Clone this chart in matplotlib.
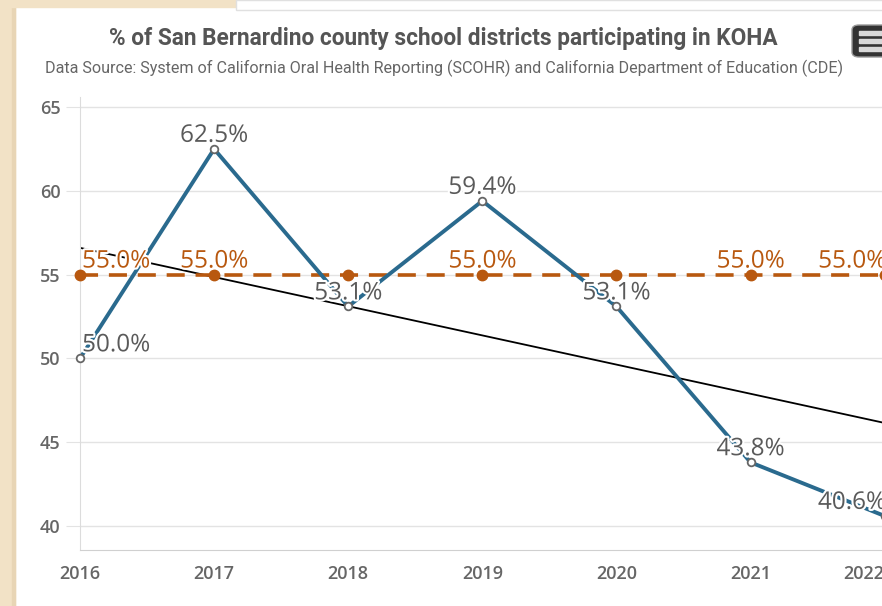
import matplotlib
matplotlib.use('Agg')
import matplotlib.pyplot as plt
import matplotlib.patheffects as pe
from matplotlib.patches import Rectangle, FancyBboxPatch

# Datos del grafico
years = [2016, 2017, 2018, 2019, 2020, 2021, 2022]
pct_koha = [50.0, 62.5, 53.1, 59.4, 53.1, 43.8, 40.6]
target = [55.0, 55.0, 55.0, 55.0, 55.0, 55.0, 55.0]
target_label_years = [2016, 2017, 2019, 2021, 2022]
trend_years = [2016, 2022]
trend_vals = [56.6, 46.15]

title = '% of San Bernardino county school districts participating in KOHA'
subtitle = ('Data Source: System of California Oral Health Reporting (SCOHR) '
            'and California Department of Education (CDE)')

W, H = 882, 606
fig = plt.figure(figsize=(W / 100, H / 100), dpi=100)
fig.patch.set_facecolor('white')

# fondo beige de la pagina
fig.patches.append(Rectangle((0, 0), 15 / W, 1, transform=fig.transFigure,
                             color='#f2e2c6', zorder=0))
fig.patches.append(Rectangle((12 / W, 0), 3 / W, 1, transform=fig.transFigure,
                             color='#e8d5b5', zorder=0))
fig.patches.append(Rectangle((0, 1 - 7 / H), 1, 7 / H, transform=fig.transFigure,
                             color='#f2e2c6', zorder=0))
fig.patches.append(Rectangle((236 / W, 1 - 10 / H), 1, 10 / H, transform=fig.transFigure,
                             facecolor='white', edgecolor='#e0e0e0', lw=1, zorder=1))

# posicion del area de trazado (en pixeles)
x0, x1 = 80, 886
y_top, y_bot = 97, 550
ax = fig.add_axes([x0 / W, (H - y_bot) / H, (x1 - x0) / W, (y_bot - y_top) / H])
ax.set_xlim(2016, 2022.01)
ax.set_ylim(38.57, 65.6)

ax.set_yticks([40, 45, 50, 55, 60, 65])
ax.set_xticks(years)
ax.grid(axis='y', color='#e3e3e3', lw=1)
ax.set_axisbelow(True)
for s in ['top', 'right']:
    ax.spines[s].set_visible(False)
ax.spines['left'].set_color('#dcdcdc')
ax.spines['bottom'].set_color('#d0d0d0')
ax.tick_params(axis='y', length=10, color='#e3e3e3', pad=4,
               labelsize=13, labelcolor='#666666')
ax.tick_params(axis='x', length=0, pad=11, labelsize=13, labelcolor='#666666')
for lab in ax.get_xticklabels() + ax.get_yticklabels():
    lab.set_fontfamily('Open Sans')
    lab.set_fontweight('semibold')
ax.get_xticklabels()[-1].set_horizontalalignment('right')

blue = '#2a6a8e'
orange = '#b8580f'
halo = [pe.withStroke(linewidth=3, foreground='white')]

# linea de tendencia
ax.plot(trend_years, trend_vals, color='black', lw=1.3, zorder=2)

# meta 55%
ax.plot(years, target, color=orange, lw=2.6, ls=(0, (5, 3)), marker='o',
        markersize=7.5, markerfacecolor=orange, markeredgecolor=orange,
        zorder=3, clip_on=False)

# serie principal
ax.plot(years, pct_koha, color=blue, lw=2.8, marker='o', markersize=5.5,
        markerfacecolor='white', markeredgecolor='#666666', markeredgewidth=1.3,
        zorder=4, clip_on=False)


def label_pos(x):
    # etiquetas ajustadas dentro del area de trazado, como en Highcharts
    if x == years[0]:
        return 1.5, 'left'
    if x == years[-1]:
        return 1, 'right'
    return 0, 'center'


for x, y in zip(years, pct_koha):
    dx, ha = label_pos(x)
    ax.annotate(f'{y:.1f}%', (x, y), xytext=(dx, 0.8), textcoords='offset points',
                ha=ha, va='bottom', fontsize=17.5, color='#5a5a5a',
                family='Open Sans', path_effects=halo, zorder=6)

for x in target_label_years:
    dx, ha = label_pos(x)
    ax.annotate('55.0%', (x, 55.0), xytext=(dx, 0.8), textcoords='offset points',
                ha=ha, va='bottom', fontsize=17.5, color=orange,
                family='Open Sans', path_effects=halo, zorder=6)

ax.set_ylabel('%', fontsize=8, color='#4a6a8a', labelpad=0)
ax.yaxis.set_label_coords(-62 / (x1 - x0), 0.5)

fig.text(443 / W, 1 - 39 / H, title, ha='center', va='center', fontsize=16.3,
         fontweight='bold', color='#555555', family=['Roboto', 'DejaVu Sans'])
fig.text(444 / W, 1 - 68 / H, subtitle, ha='center', va='center', fontsize=11.6,
         color='#666666', family=['Roboto', 'DejaVu Sans'])

# boton de menu
fig.patches.append(FancyBboxPatch((852 / W, 1 - 57 / H), 40 / W, 32 / H,
                                  boxstyle='round,pad=0,rounding_size=0.008',
                                  transform=fig.transFigure, facecolor='#333333',
                                  edgecolor='#999999', lw=1, zorder=5))
for yy in [33, 41, 49]:
    fig.patches.append(Rectangle((859 / W, 1 - (yy + 2) / H), 30 / W, 4 / H,
                                 transform=fig.transFigure, color='#d8d8d8', zorder=6))

fig.savefig('out.png', dpi=100)
